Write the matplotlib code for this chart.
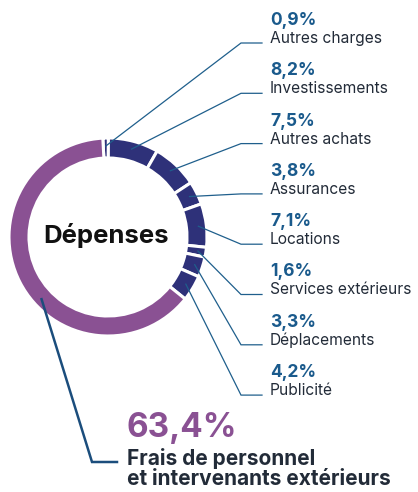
import matplotlib
matplotlib.use('Agg')
import matplotlib.pyplot as plt
import numpy as np

# ---- data ----
categories = ["Autres charges", "Investissements", "Autres achats", "Assurances",
              "Locations", "Services extérieurs", "Déplacements", "Publicité",
              "Frais de personnel\net intervenants extérieurs"]
values = [0.9, 8.2, 7.5, 3.8, 7.1, 1.6, 3.3, 4.2, 63.4]
pct_labels = ["0,9%", "8,2%", "7,5%", "3,8%", "7,1%", "1,6%", "3,3%", "4,2%", "63,4%"]
center_title = "Dépenses"

plt.rcParams['font.family'] = ['Inter', 'DejaVu Sans']

W, H = 418, 492
fig = plt.figure(figsize=(W / 100, H / 100), dpi=100)
ax = fig.add_axes([0, 0, 1, 1])

cx, cy, R, ring = 108, 237, 99, 20
NAVY = '#2e3179'
PURPLE = '#8a5193'
LINE = '#1f5f8c'
PCT = '#1a5a8c'
LABEL = '#222b38'
colors = [NAVY] * (len(values) - 1) + [PURPLE]
start = 93

ax.pie(values, colors=colors, startangle=-start, counterclock=True, radius=R,
       center=(cx, cy), wedgeprops=dict(width=ring, edgecolor='white', linewidth=2.2))
ax.set_xlim(0, W)
ax.set_ylim(H, 0)
ax.set_aspect('auto')
ax.axis('off')

ax.text(cx - 2, 243, center_title, ha='center', va='baseline', fontsize=18.5,
        fontweight='bold', color='#111111')

total = sum(values)
cum = np.concatenate([[0], np.cumsum(values)[:-1]])
anchor_frac = [0.5] * (len(values) - 1) + [0.43]
r_anchor = 91

def anchor(i):
    phi = np.deg2rad(start - 360 * (cum[i] + anchor_frac[i] * values[i]) / total)
    return cx + r_anchor * np.cos(phi), cy - r_anchor * np.sin(phi)

row0, step = 43, 50.3
elbow_x, end_x, text_x = 241, 262, 270
for i in range(len(values) - 1):
    ay, by = anchor(i)
    ry = row0 + i * step
    ax.plot([ay, elbow_x, end_x], [by, ry, ry], color=LINE, lw=0.9,
            solid_joinstyle='miter')
    ax.text(text_x, ry - 18, pct_labels[i], ha='left', va='baseline',
            fontsize=12.5, fontweight='bold', color=PCT)
    ax.text(text_x, ry, categories[i], ha='left', va='baseline',
            fontsize=11.2, color=LABEL)

# big slice
i = len(values) - 1
ax_, ay_ = anchor(i)
ax.plot([ax_, 92, 117], [ay_, 462, 462], color='#1b4d7c', lw=1.8,
        solid_joinstyle='miter')
ax.text(127, 437, pct_labels[i], ha='left', va='baseline', fontsize=24,
        fontweight='bold', color=PURPLE)
for k, line in enumerate(categories[i].split('\n')):
    ax.text(127, 465 + k * 20, line, ha='left', va='baseline', fontsize=15,
            fontweight='bold', color=LABEL)

fig.savefig('out.png', dpi=100)
